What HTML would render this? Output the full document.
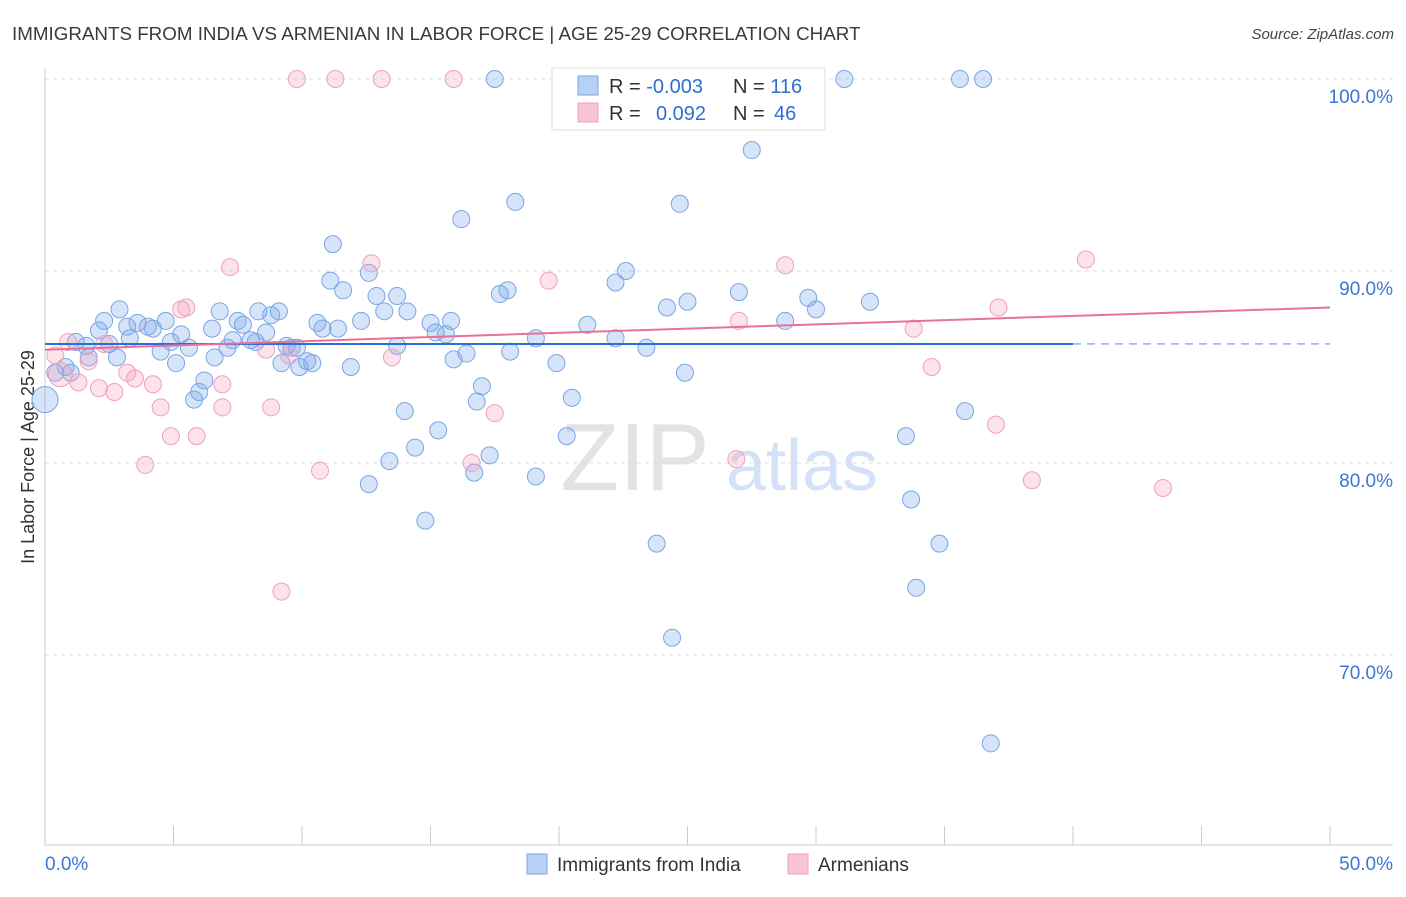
<!DOCTYPE html>
<html><head><meta charset="utf-8"><style>
body{margin:0;background:#fff;font-family:"Liberation Sans",sans-serif;}
svg text{font-family:"Liberation Sans",sans-serif;}
</style></head><body>
<svg id="chart" width="1406" height="892" viewBox="0 0 1406 892" xmlns="http://www.w3.org/2000/svg">
<text x="12" y="40" font-size="18.8" fill="#3a3a3a">IMMIGRANTS FROM INDIA VS ARMENIAN IN LABOR FORCE | AGE 25-29 CORRELATION CHART</text>
<text x="1394" y="39" font-size="15" fill="#444" font-style="italic" text-anchor="end">Source: ZipAtlas.com</text>
<text transform="translate(34,457) rotate(-90)" font-size="18" fill="#333" text-anchor="middle">In Labor Force | Age 25-29</text>
<g>
<text x="635" y="490" font-size="96" fill="#ddd" font-family="Liberation Serif" text-anchor="middle" opacity="0.8">ZIP</text>
<text x="802" y="490" font-size="72" fill="#c9dcf4" text-anchor="middle" opacity="0.8">atlas</text>
</g>
<g id="grid"></g><g id="axes"></g><g id="pts"></g><g id="lines"></g>
<g>
<rect x="552" y="68" width="273" height="62" fill="#fff" stroke="#ddd"/>
<rect x="578" y="76" width="20" height="19" fill="#b8d0f4" stroke="#7aa5e6"/>
<rect x="578" y="103" width="20" height="19" fill="#f9c4d4" stroke="#f0a0bb"/>
<text x="609" y="93" font-size="20" fill="#333">R = <tspan fill="#2f6fd0">-0.003</tspan></text>
<text x="733" y="93" font-size="20" fill="#333">N = <tspan fill="#2f6fd0">116</tspan></text>
<text x="609" y="120" font-size="20" fill="#333">R = <tspan fill="#2f6fd0" x="656">0.092</tspan></text>
<text x="733" y="120" font-size="20" fill="#333">N = <tspan fill="#2f6fd0" x="774">46</tspan></text>
</g>
<g>
<rect x="527" y="854" width="20" height="20" fill="#b8d0f4" stroke="#7aa5e6"/>
<text x="557" y="871" font-size="19" fill="#333">Immigrants from India</text>
<rect x="788" y="854" width="20" height="20" fill="#f9c4d4" stroke="#f0a0bb"/>
<text x="818" y="871" font-size="19" fill="#333">Armenians</text>
</g>
</svg>
<script>
const yTicks=[100,90,80,70];
const yTickLabels=["100.0%","90.0%","80.0%","70.0%"];
const xTickVals=[0,5,10,15,20,25,30,35,40,45,50];
const indiaX=[0,0.4,0.8,1.0,1.2,1.6,1.7,2.1,2.3,2.5,2.8,2.9,3.2,3.3,3.6,4.0,4.2,4.5,4.7,4.9,5.1,5.3,5.6,5.8,6.0,6.2,6.5,6.6,6.8,7.1,7.3,7.5,7.7,8.0,8.2,8.3,8.6,8.8,9.1,9.2,9.4,9.6,9.8,9.9,10.2,10.4,10.6,10.8,11.1,11.2,11.4,11.6,11.9,12.3,12.6,12.6,12.9,13.2,13.4,13.7,13.7,14.0,14.1,14.4,14.8,15.0,15.2,15.3,15.6,15.8,15.9,16.2,16.4,16.7,16.8,17.0,17.3,17.5,17.7,18.0,18.1,18.3,19.1,19.1,19.9,20.3,20.5,21.1,22.2,22.2,22.6,23.4,23.8,24.2,24.4,24.7,24.9,25.0,27.0,27.5,28.8,29.4,29.7,30.0,31.1,32.1,33.5,33.7,33.9,34.8,35.6,35.8,36.5,36.8];
const indiaY=[83.3,84.7,85.0,84.7,86.3,86.1,85.5,86.9,87.4,86.2,85.5,88.0,87.1,86.5,87.3,87.1,87.0,85.8,87.4,86.3,85.2,86.7,86.0,83.3,83.7,84.3,87.0,85.5,87.9,86.0,86.4,87.4,87.2,86.4,86.3,87.9,86.8,87.7,87.9,85.2,86.1,86.0,86.0,85.0,85.3,85.2,87.3,87.0,89.5,91.4,87.0,89.0,85.0,87.4,78.9,89.9,88.7,87.9,80.1,86.1,88.7,82.7,87.9,80.8,77.0,87.3,86.8,81.7,86.7,87.4,85.4,92.7,85.7,79.5,83.2,84.0,80.4,100,88.8,89.0,85.8,93.6,86.5,79.3,85.2,81.4,83.4,87.2,86.5,89.4,90.0,86.0,75.8,88.1,70.9,93.5,84.7,88.4,88.9,96.3,87.4,100,88.6,88.0,100,88.4,81.4,78.1,73.5,75.8,100,82.7,100,65.4];
const armX=[0.4,0.6,0.9,1.3,1.7,2.1,2.3,2.7,3.2,3.5,3.9,4.2,4.5,4.9,5.3,5.5,5.9,6.9,6.9,7.2,8.6,8.8,9.2,9.5,9.8,10.7,11.3,12.7,13.1,13.5,15.9,16.6,17.5,19.6,26.9,27.0,28.8,33.8,34.5,37.0,37.1,38.4,40.5,43.5];
const armY=[85.6,84.6,86.3,84.2,85.3,83.9,86.2,83.7,84.7,84.4,79.9,84.1,82.9,81.4,88.0,88.1,81.4,84.1,82.9,90.2,85.9,82.9,73.3,85.6,100,79.6,100,90.4,100,85.5,100,80.0,82.6,89.5,80.2,87.4,90.3,87.0,85.0,82.0,88.1,79.1,90.6,78.7];
const indiaTrend=[86.2,86.2];const indiaTrendX=[0,40];
const armTrend=[85.9,88.1];
const NS="http://www.w3.org/2000/svg";
const X=v=>45+v*25.7, Y=v=>79+(100-v)*19.2;
function mk(t,a,p){const e=document.createElementNS(NS,t);for(const k in a)e.setAttribute(k,a[k]);p.appendChild(e);return e;}
const grid=document.getElementById('grid'),axes=document.getElementById('axes'),pts=document.getElementById('pts'),lines=document.getElementById('lines');
yTicks.forEach((v,i)=>{
 const l=mk('line',{x1:45,x2:1393,y1:Y(v),y2:Y(v),stroke:'#ddd','stroke-dasharray':'4,4'},grid);
 
 
 const t=mk('text',{x:1393,y:Y(v)+24,'font-size':19,fill:'#3a76d4','text-anchor':'end'},grid);
 t.textContent=yTickLabels[i];
 
 
});
const ya=mk('line',{x1:45,x2:45,y1:68,y2:845,stroke:'#ccc'},axes);


const xa=mk('line',{x1:45,x2:1393,y1:845,y2:845,stroke:'#ccc'},axes);


xTickVals.forEach(v=>{const t=mk('line',{x1:X(v),x2:X(v),y1:826,y2:845,stroke:'#ccc'},axes);
 
 });
const x0=mk('text',{x:45,y:870,'font-size':19,fill:'#3a76d4'},axes);x0.textContent='0.0%';


const x1=mk('text',{x:1393,y:870,'font-size':19,fill:'#3a76d4','text-anchor':'end'},axes);x1.textContent='50.0%';


indiaX.forEach((v,i)=>{const c=mk('circle',{cx:X(v),cy:Y(indiaY[i]),r:i==0?13:8.5,fill:'rgba(120,165,235,0.3)',stroke:'#7aa5e6','stroke-width':1},pts);
 
 });
armX.forEach((v,i)=>{const c=mk('circle',{cx:X(v),cy:Y(armY[i]),r:i==1?12:8.5,fill:'rgba(245,160,190,0.3)',stroke:'#f0a0bb','stroke-width':1},pts);
 
 });
const bl=mk('line',{x1:X(indiaTrendX[0]),x2:X(indiaTrendX[1]),y1:Y(indiaTrend[0]),y2:Y(indiaTrend[1]),stroke:'#2a6fd8','stroke-width':2},lines);


const bd=mk('line',{x1:X(indiaTrendX[1]),x2:X(50),y1:Y(indiaTrend[1]),y2:Y(indiaTrend[1]),stroke:'#2a6fd8','stroke-width':1.2,'stroke-dasharray':'8,6',opacity:0.7},lines);


const pl=mk('line',{x1:X(0),x2:X(50),y1:Y(armTrend[0]),y2:Y(armTrend[1]),stroke:'#e8709a','stroke-width':2},lines);


</script>
</body></html>
